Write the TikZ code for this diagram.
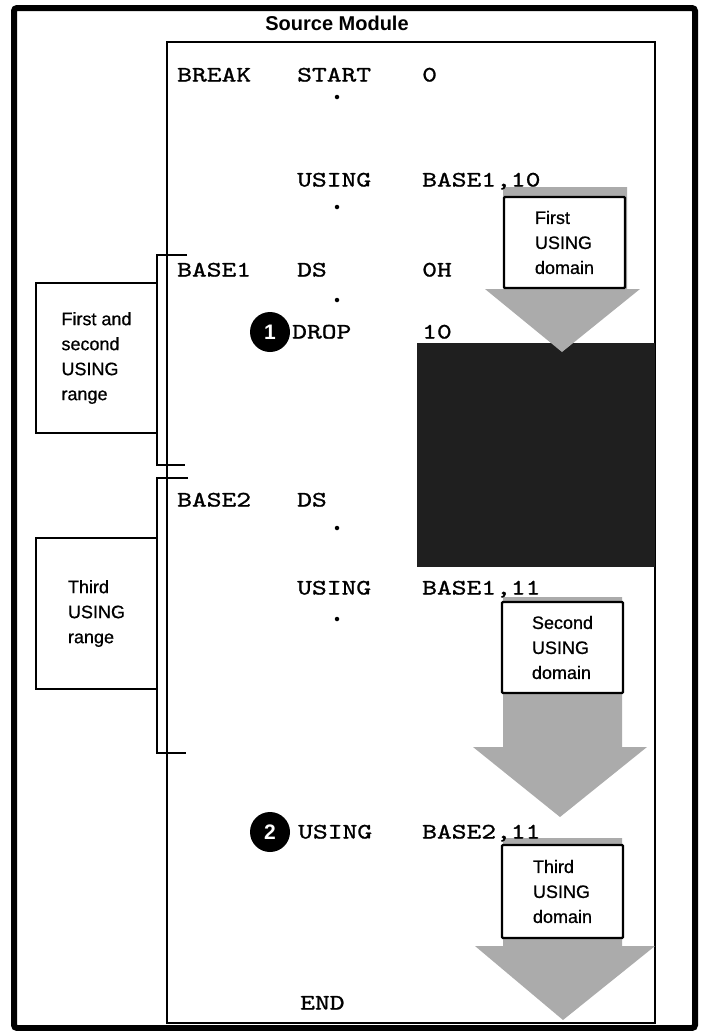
\documentclass[tikz,border=0pt]{standalone}
\usepackage{fontspec}
\setmainfont{Liberation Sans}
\newfontfamily\codefont{lmmono10-regular.otf}[FakeStretch=1.28, FakeBold=1.2]
\newfontfamily\labelfont{Liberation Sans}[FakeBold=0.7]

\begin{document}
\begin{tikzpicture}[x=1pt, y=-1pt,
    code/.style={font=\codefont\fontsize{22}{26}\selectfont, inner sep=0pt, anchor=base west},
    lbl/.style={font=\labelfont\fontsize{18}{25}\selectfont, align=left, inner sep=0pt},
    rangebox/.style={lbl, draw, line width=1.6pt, fill=white, minimum width=121pt},
    domainbox/.style={lbl, draw, line width=2.2pt, fill=white, rounded corners=1pt,
                      minimum width=121pt},
    num/.style={circle, fill=black, text=white, minimum size=40pt, inner sep=0pt,
                font=\bfseries\fontsize{21}{21}\selectfont},
    dot/.style={circle, fill=black, inner sep=0pt, minimum size=4.5pt},
    bracket/.style={line width=2pt}]
  \useasboundingbox (0,0) rectangle (703,1031);

  % Source Module frame
  \draw[line width=6pt, rounded corners=3pt] (14,8) rectangle (695,1028);
  \node[font=\bfseries\fontsize{20}{24}\selectfont] (title) at (337,23) {Source Module};
  \draw[line width=1.6pt] (167,42) rectangle (655,1023);

  % Dropped part of the first domain
  \fill[black!88] (417,343) rectangle (655,567);

  % USING domains (gray arrows)
  \foreach \st/\sr/\nk/\hl/\hr/\tx/\ty in {187/627/289/485/640/562/352,
                                          597/622/747/473/647/560/817,
                                          838/622/946/475/655/563/1020} {
    \fill[black!33] (503,\st) -- (\sr,\st) -- (\sr,\nk) -- (\hr,\nk) -- (\tx,\ty)
                    -- (\hl,\nk) -- (503,\nk) -- cycle;
  }
  \node[domainbox, minimum height=91pt] (dom1) at (564.5,242.5) {First\\USING\\domain};
  \node[domainbox, minimum height=91pt] (dom2) at (562.5,647.5) {Second\\USING\\domain};
  \node[domainbox, minimum height=93pt] (dom3) at (562.5,891.5) {Third\\USING\\domain};

  % USING ranges
  \draw[bracket] (187,255) -| (157,465) -- (185,465);
  \draw[bracket] (188,478) -| (157,753) -- (186,753);
  \node[rangebox, minimum height=150pt] (rng1) at (96.5,358)
       {First and\\second\\USING\\range};
  \node[rangebox, minimum height=151pt] (rng2) at (96.5,613.5) {Third\\USING\\range};

  % Source statements
  \node[code] (brk)   at (177,81.5)  {BREAK};
  \node[code] (start) at (297,81.5)  {START};
  \node[code] (zero)  at (422,81.5)  {0};
  \node[code] (use1)  at (297,186.5) {USING};
  \node[code] (opd1)  at (422,186.5) {BASE1,10};
  \node[code] (base1) at (177,276.5) {BASE1};
  \node[code] (ds1)   at (297,276.5) {DS};
  \node[code] (oh)    at (422,276.5) {0H};
  \node[num]  (n1)    at (270,332)   {1};
  \node[code] (drop)  at (292,338.5) {DROP};
  \node[code] (ten)   at (422,338.5) {10};
  \node[code] (base2) at (177,506.5) {BASE2};
  \node[code] (ds2)   at (297,506.5) {DS};
  \node[code] (use2)  at (297,594.5) {USING};
  \node[code] (opd2)  at (422,594.5) {BASE1,11};
  \node[num]  (n2)    at (270,832)   {2};
  \node[code] (use3)  at (298,838.5) {USING};
  \node[code] (opd3)  at (422,838.5) {BASE2,11};
  \node[code] (fin)   at (300,1009.5) {END};

  % Omitted statements
  \foreach \y [count=\i] in {97,207,300,528,619} {
    \node[dot] (gap\i) at (337,\y) {};
  }
\end{tikzpicture}
\end{document}
